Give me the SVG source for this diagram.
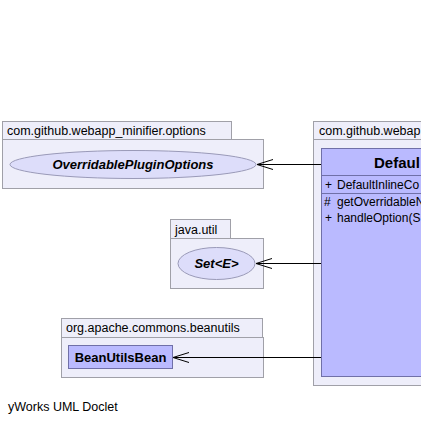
<svg xmlns="http://www.w3.org/2000/svg" width="421" height="423" viewBox="0 0 421 423">
<defs>
<style>
.pkg{fill:#eeeefa;stroke:#a0a0a8;stroke-width:1}
.ptxt{font-family:"Liberation Sans",Arial,sans-serif;font-size:12.5px;fill:#000}
.iface{fill:#ddddfa;stroke:#9a9ab8;stroke-width:1}
.cls{fill:#babaff;stroke:#7070a8;stroke-width:1}
.name{font-family:"Liberation Sans",Arial,sans-serif;font-size:13px;font-weight:bold;fill:#000}
.it{font-style:italic}
.mem{font-family:"Liberation Sans",Arial,sans-serif;font-size:12px;fill:#000}
.edge{stroke:#000;stroke-width:1;fill:none}
</style>
<marker id="open" markerWidth="18" markerHeight="12" refX="17" refY="6" orient="auto" markerUnits="userSpaceOnUse">
<path d="M1,1 L17,6 L1,11 M1,6 L17,6" fill="none" stroke="#000" stroke-width="1"/>
</marker>
</defs>
<rect width="421" height="423" fill="#fff"/>
<g id="pkg-options">
<rect class="pkg" x="2.5" y="121.5" width="229" height="18"/>
<rect class="pkg" x="2.5" y="139.5" width="261" height="49"/>
<text class="ptxt" x="7" y="134.5">com.github.webapp_minifier.options</text>
</g>
<g id="node-OverridablePluginOptions">
<ellipse class="iface" cx="133" cy="164.5" rx="123" ry="14"/>
<text class="name it" x="133" y="169" text-anchor="middle">OverridablePluginOptions</text>
</g>
<g id="pkg-javautil">
<rect class="pkg" x="170.5" y="219.5" width="60" height="19"/>
<rect class="pkg" x="170.5" y="238.5" width="93" height="50"/>
<text class="ptxt" x="175" y="233.5">java.util</text>
</g>
<g id="node-Set">
<ellipse class="iface" cx="216.5" cy="263.5" rx="38.5" ry="16"/>
<text class="name it" x="216.5" y="268" text-anchor="middle">Set&lt;E&gt;</text>
</g>
<g id="pkg-beanutils">
<rect class="pkg" x="61.5" y="318.5" width="201" height="19"/>
<rect class="pkg" x="61.5" y="337.5" width="202" height="40"/>
<text class="ptxt" x="66" y="332">org.apache.commons.beanutils</text>
</g>
<g id="node-BeanUtilsBean">
<rect class="cls" x="68.5" y="345.5" width="104" height="23"/>
<text class="name" x="120.5" y="362" text-anchor="middle">BeanUtilsBean</text>
</g>
<g id="pkg-plugins">
<rect class="pkg" x="313.5" y="121.5" width="120" height="18"/>
<rect class="pkg" x="313.5" y="139.5" width="120" height="246"/>
<text class="ptxt" x="319" y="134.5">com.github.webap</text>
</g>
<g id="node-DefaultInlineCompressor">
<rect class="cls" x="321.5" y="148.5" width="110" height="228"/>
<line x1="321.5" y1="175.5" x2="431" y2="175.5" stroke="#7070a8"/>
<line x1="321.5" y1="193.5" x2="431" y2="193.5" stroke="#7070a8"/>
<text class="name" x="374" y="168" style="font-size:15px">Defaul</text>
<text class="mem" x="325" y="189">+<tspan x="337">DefaultInlineCo</tspan></text>
<text class="mem" x="324" y="206">#<tspan x="337">getOverridableN</tspan></text>
<text class="mem" x="325" y="222">+<tspan x="337">handleOption(S</tspan></text>
</g>
<g id="connectors">
<line class="edge" x1="321" y1="164.5" x2="257" y2="164.5" marker-end="url(#open)"/>
<line class="edge" x1="321" y1="263.5" x2="256" y2="263.5" marker-end="url(#open)"/>
<line class="edge" x1="321" y1="357.5" x2="173" y2="357.5" marker-end="url(#open)"/>
</g>
<text class="ptxt" x="8" y="411">yWorks UML Doclet</text>
</svg>
